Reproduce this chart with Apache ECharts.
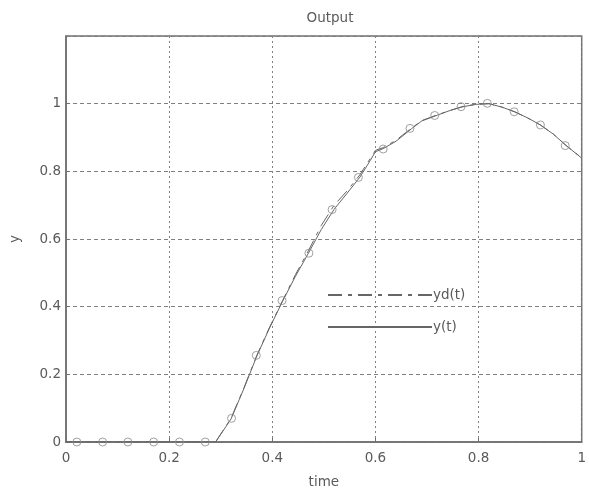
<!DOCTYPE html>
<html>
<head>
<meta charset="utf-8">
<script src="https://cdn.jsdelivr.net/npm/echarts@6/dist/echarts.min.js"></script>
<style>
  html, body { margin: 0; padding: 0; background: #fff; }
  #chart { width: 589px; height: 497px; }
</style>
</head>
<body>
<div id="chart"></div>
<script>
// Time samples for the two traces
const timeLine = [0, 0.1, 0.2, 0.29, 0.32, 0.345, 0.37, 0.395, 0.42, 0.445, 0.47, 0.495, 0.52, 0.545, 0.57, 0.59, 0.6, 0.615, 0.64, 0.67, 0.69, 0.72, 0.745, 0.77, 0.795, 0.82, 0.845, 0.87, 0.895, 0.92, 0.945, 0.97, 1.0];
// Desired output yd(t)
const ydValues = [0, 0, 0, 0, 0.07, 0.16, 0.256, 0.34, 0.418, 0.495, 0.565, 0.64, 0.7, 0.742, 0.79, 0.838, 0.862, 0.87, 0.892, 0.928, 0.95, 0.967, 0.98, 0.992, 0.998, 1.0, 0.99, 0.976, 0.958, 0.937, 0.91, 0.876, 0.84];
// Actual output y(t)
const yValues = [0, 0, 0, 0, 0.068, 0.158, 0.254, 0.338, 0.416, 0.49, 0.558, 0.628, 0.688, 0.735, 0.783, 0.832, 0.858, 0.867, 0.889, 0.926, 0.949, 0.966, 0.98, 0.991, 0.998, 1.0, 0.99, 0.976, 0.958, 0.937, 0.91, 0.876, 0.839];
// Sampled points marked with circles
const timeMarks = [0.021, 0.071, 0.12, 0.17, 0.22, 0.27, 0.321, 0.369, 0.419, 0.471, 0.516, 0.567, 0.615, 0.667, 0.715, 0.766, 0.817, 0.869, 0.92, 0.968];
const markValues = [0, 0, 0, 0, 0, 0, 0.07, 0.256, 0.418, 0.558, 0.687, 0.782, 0.866, 0.927, 0.965, 0.991, 1.001, 0.976, 0.937, 0.876];
// Axis ticks
const xTicks = [0, 0.2, 0.4, 0.6, 0.8, 1];
const yTicks = [0, 0.2, 0.4, 0.6, 0.8, 1];

const pair = (xs, ys) => xs.map((x, i) => [x, ys[i]]);

const FONT = 'DejaVu Sans';
const FS = 13.5;
const TEXT = '#5a5a5a';
const AXIS = '#707070';
const chart = echarts.init(document.getElementById('chart'), null, { renderer: 'canvas' });

chart.setOption({
  backgroundColor: '#fff',
  animation: false,
  title: {
    text: 'Output',
    left: 325, top: 6, textAlign: 'center',
    textStyle: { fontFamily: FONT, fontSize: FS, fontWeight: 'normal', color: TEXT }
  },
  grid: {
    left: 65, right: 4, top: 36, bottom: 55,
    show: true, borderColor: AXIS, borderWidth: 1.5, backgroundColor: '#fff'
  },
  legend: {
    left: 322, top: 283, orient: 'vertical',
    itemWidth: 104, itemHeight: 16, itemGap: 18,
    data: ['yd(t)', 'y(t)'],
    itemStyle: { opacity: 0 },
    textStyle: { fontFamily: FONT, fontSize: FS, color: TEXT, padding: [0, 0, 0, -4] }
  },
  xAxis: {
    type: 'value', min: 0, max: 1, interval: 0.2,
    name: 'time', nameLocation: 'middle', nameGap: 33,
    nameTextStyle: { fontFamily: FONT, fontSize: FS, color: TEXT },
    axisLine: { show: true, onZero: false, lineStyle: { color: AXIS, width: 1.5 } },
    axisTick: { show: true, inside: true, length: 4, lineStyle: { color: AXIS } },
    axisLabel: {
      fontFamily: FONT, fontSize: FS, color: TEXT, margin: 9,
      formatter: v => xTicks.includes(+v.toFixed(1)) ? String(+v.toFixed(1)) : ''
    },
    splitLine: { show: true, lineStyle: { color: '#808080', type: [2, 3], width: 1 } }
  },
  yAxis: {
    type: 'value', min: 0, max: 1.2, interval: 0.2,
    name: 'y', nameLocation: 'middle', nameGap: 44, nameRotate: 90,
    nameTextStyle: { fontFamily: FONT, fontSize: FS, color: TEXT },
    axisLine: { show: true, onZero: false, lineStyle: { color: AXIS, width: 1.5 } },
    axisTick: { show: true, inside: true, length: 4, lineStyle: { color: AXIS } },
    axisLabel: {
      fontFamily: FONT, fontSize: FS, color: TEXT, margin: 5, showMaxLabel: false,
      formatter: v => yTicks.includes(+v.toFixed(1)) ? String(+v.toFixed(1)) : ''
    },
    splitLine: { show: true, lineStyle: { color: '#808080', type: [4, 3], width: 1 } }
  },
  series: [
    {
      name: 'yd(t)', type: 'line', symbol: 'none', smooth: false,
      data: pair(timeLine, ydValues),
      lineStyle: { color: '#666', width: 1, type: [14, 6, 4, 6] },
      itemStyle: { color: '#666' }
    },
    {
      name: 'y(t)', type: 'line', symbol: 'none', smooth: false,
      data: pair(timeLine, yValues),
      lineStyle: { color: '#666', width: 1 },
      itemStyle: { color: '#666' }
    },
    {
      name: 'samples', type: 'scatter', symbol: 'circle', symbolSize: 8,
      data: pair(timeMarks, markValues),
      itemStyle: { color: 'rgba(255,255,255,0)', borderColor: '#888', borderWidth: 1 },
      z: 3
    }
  ]
});
</script>
</body>
</html>
